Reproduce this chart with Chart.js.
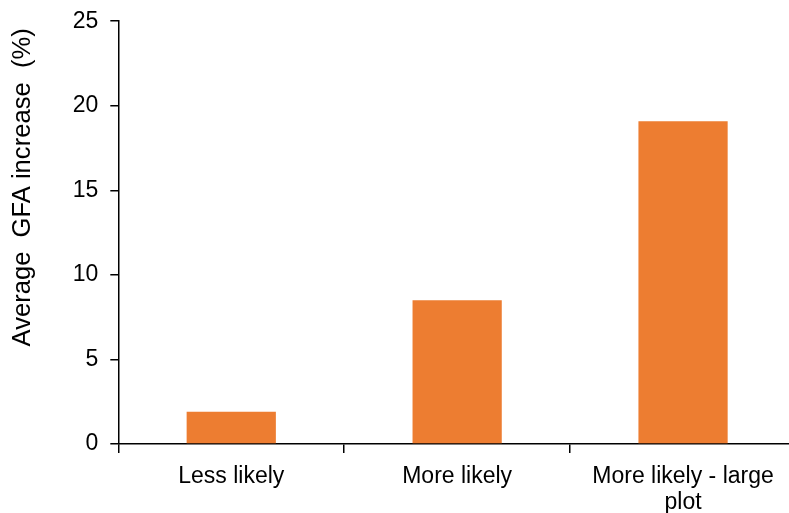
<!DOCTYPE html>
<html>
<head>
<meta charset="utf-8">
<script src="https://cdn.jsdelivr.net/npm/chart.js@4/dist/chart.umd.min.js"></script>
<style>
  html, body { margin: 0; padding: 0; background: #fff; overflow: hidden; }
  #wrap { width: 796px; height: 513px; position: relative; }
</style>
</head>
<body>
<div id="wrap"><canvas id="myChart"></canvas></div>
<script>
var categories = ['Less likely', 'More likely', ['More likely - large', 'plot']];
var gfaIncrease = [1.91, 8.51, 19.09];
var yTicks = [0, 5, 10, 15, 20, 25];

Chart.defaults.font.family = '"Liberation Sans", Arial, sans-serif';
Chart.defaults.color = '#000';

var ctx = document.getElementById('myChart').getContext('2d');
var myChart = new Chart(ctx, {
  type: 'bar',
  data: {
    labels: categories,
    datasets: [{
      data: gfaIncrease,
      backgroundColor: '#ED7D31',
      borderWidth: 0,
      categoryPercentage: 1,
      barPercentage: 0.395
    }]
  },
  options: {
    responsive: true,
    maintainAspectRatio: false,
    animation: false,
    layout: {
      padding: { left: 8, right: 0, top: 3, bottom: -13 }
    },
    plugins: {
      legend: { display: false },
      tooltip: { enabled: false }
    },
    scales: {
      x: {
        grid: {
          offset: true,
          drawOnChartArea: false,
          drawTicks: true,
          tickLength: 9,
          color: '#000',
          lineWidth: 1.5
        },
        border: { display: true, color: '#000', width: 1.5 },
        ticks: {
          font: { size: 23, lineHeight: 1.15 },
          color: '#000',
          padding: 10,
          maxRotation: 0
        }
      },
      y: {
        min: 0,
        max: 25,
        afterBuildTicks: function(axis) {
          axis.ticks = yTicks.map(function(v) { return { value: v }; });
        },
        grid: {
          drawOnChartArea: false,
          drawTicks: true,
          tickLength: 8,
          color: '#000',
          lineWidth: 1.5
        },
        border: { display: true, color: '#000', width: 1.5 },
        ticks: {
          font: { size: 23, lineHeight: 0.8 },
          color: '#000',
          padding: 12
        },
        title: {
          display: true,
          align: 'end',
          text: 'Average  GFA increase  (%) ',
          font: { size: 25.6 },
          color: '#000',
          padding: { top: 0, bottom: 22 }
        }
      }
    }
  }
});
</script>
</body>
</html>
